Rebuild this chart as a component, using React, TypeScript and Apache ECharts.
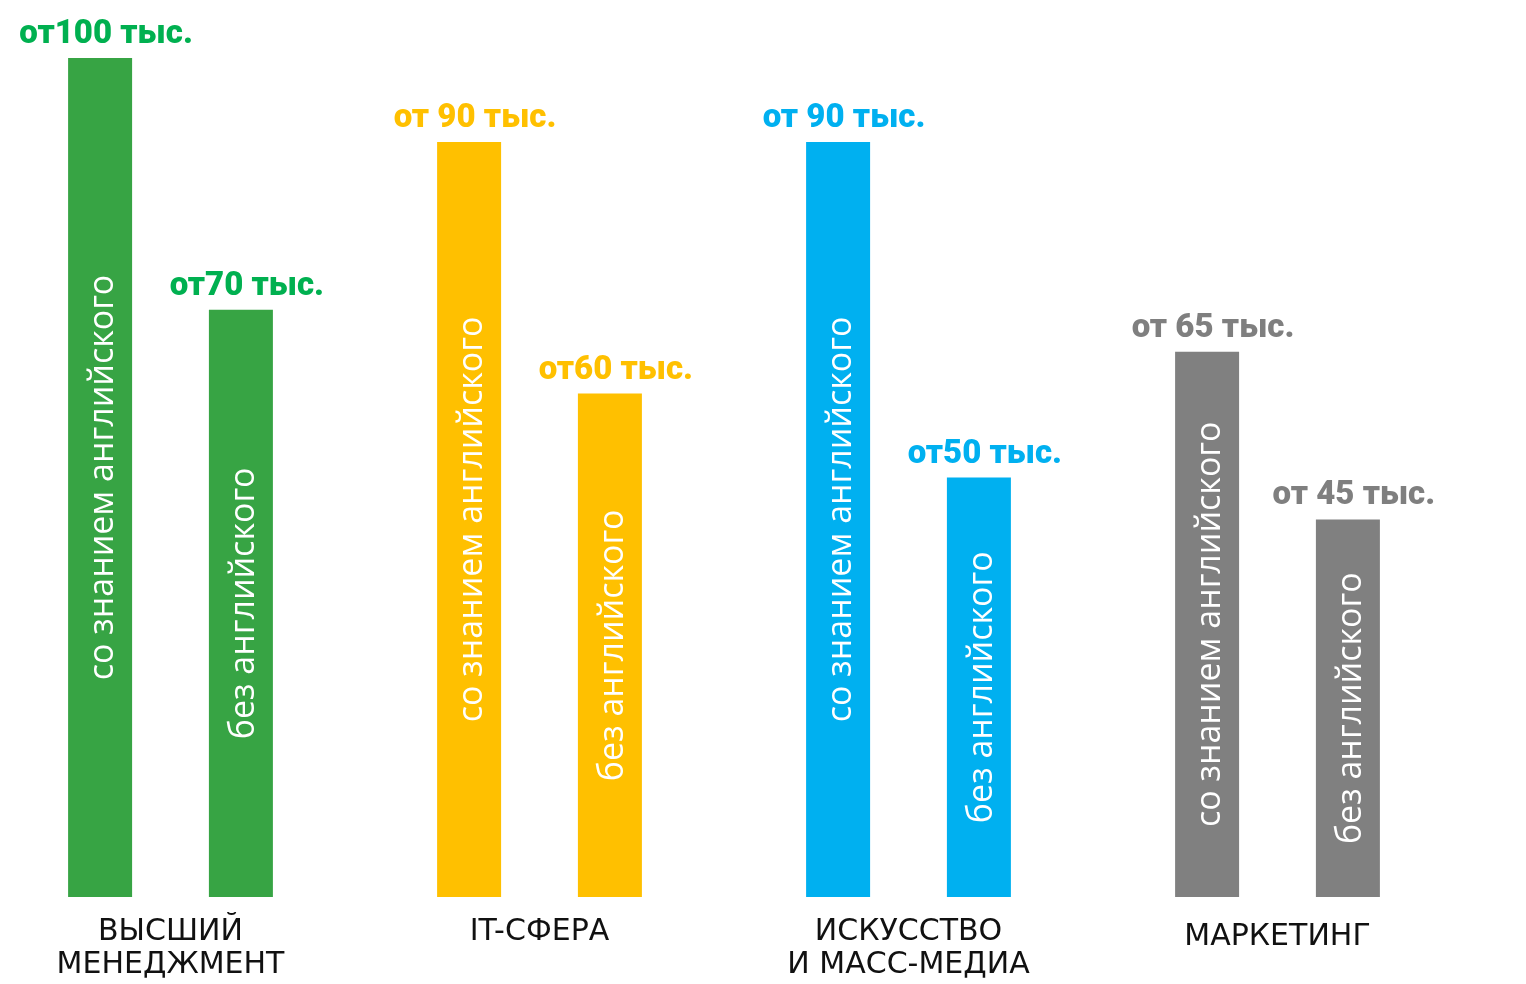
import React, { useEffect, useRef } from "react";
import * as echarts from "echarts";

const categories = ["ВЫСШИЙ\nМЕНЕДЖМЕНТ", "IT-СФЕРА", "ИСКУССТВО\nИ МАСС-МЕДИА", "МАРКЕТИНГ"];
const withEnglish = [100, 90, 90, 65];
const withoutEnglish = [70, 60, 50, 45];
const labelsWith = ["от100 тыс.", "от 90 тыс.", "от 90 тыс.", "от 65 тыс."];
const labelsWithout = ["от70 тыс.", "от60 тыс.", "от50 тыс.", "от 45 тыс."];
const insideWith = "со знанием английского";
const insideWithout = "без английского";

const barColors = ["#37a444", "#ffc000", "#00b0f0", "#808080"];
const textColors = ["#00b050", "#ffc000", "#00b0f0", "#7f7f7f"];
const labelTopPad = [0, 0, 0, 5];

export default function App() {
  const ref = useRef<HTMLDivElement>(null);
  useEffect(() => {
    if (!ref.current) return;
    const chart = echarts.init(ref.current, null, { renderer: "svg" });
    const mainSeries = (values: number[], stack: string, text: string) => ({
      type: "bar",
      stack,
      barWidth: 64,
      barGap: "120%",
      data: values.map((v, i) => ({ value: v, itemStyle: { color: barColors[i] } })),
      label: {
        show: true,
        position: "inside",
        rotate: 90,
        align: "center",
        verticalAlign: "middle",
        formatter: () => text,
        color: "#ffffff",
        fontFamily: "Open Sans",
        fontSize: 34,
        fontWeight: 400,
      },
    });
    const topSeries = (values: number[], stack: string, labels: string[]) => ({
      type: "bar",
      stack,
      barWidth: 64,
      barGap: "120%",
      data: values.map((_, i) => ({
        value: 0,
        itemStyle: { color: "transparent" },
        label: { color: textColors[i] },
      })),
      label: {
        show: true,
        position: "top",
        distance: 10,
        offset: [6, 0],
        formatter: (p: any) => labels[p.dataIndex],
        fontFamily: "Roboto",
        fontWeight: 900,
        fontSize: 33,
      },
    });
    chart.setOption({
      animation: false,
      grid: { left: 0, right: 64, top: 58, bottom: 87 },
      xAxis: {
        type: "category",
        data: categories.map((c, i) => ({ value: c, textStyle: { padding: [labelTopPad[i], 0, 0, 0] } })),
        axisLine: { show: false },
        axisTick: { show: false },
        axisLabel: {
          margin: 16,
          color: "#111111",
          fontFamily: "DejaVu Sans",
          fontSize: 30,
          lineHeight: 33,
          interval: 0,
        },
      },
      yAxis: { type: "value", min: 0, max: 100, show: false, splitLine: { show: false } },
      series: [
        mainSeries(withEnglish, "a", insideWith),
        topSeries(withEnglish, "a", labelsWith),
        mainSeries(withoutEnglish, "b", insideWithout),
        topSeries(withoutEnglish, "b", labelsWithout),
      ],
    });
    return () => chart.dispose();
  }, []);
  return <div ref={ref} style={{ position: "fixed", left: -14, top: 0, width: 1540, height: 984 }} />;
}
